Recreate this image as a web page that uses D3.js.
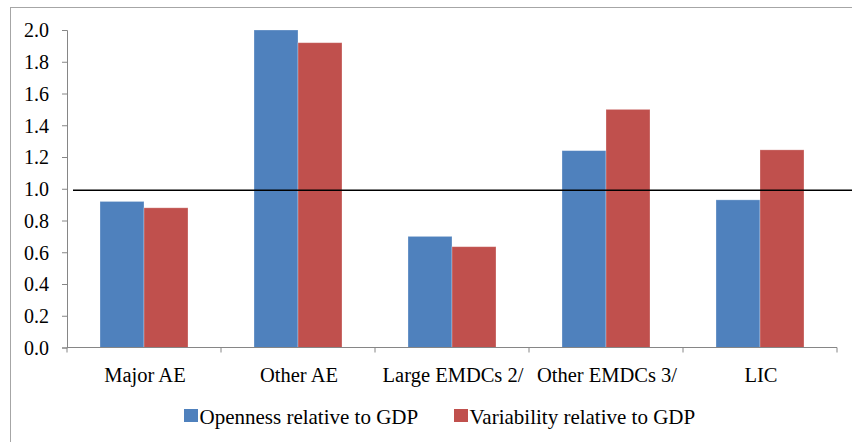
<!DOCTYPE html>
<html>
<head>
<meta charset="utf-8">
<script src="https://cdn.jsdelivr.net/npm/d3@7"></script>
<style>
  html, body { margin: 0; padding: 0; background: #fff; }
  svg { display: block; }
</style>
</head>
<body>
<svg id="chart" width="852" height="442"></svg>
<script>
// Category groups and the two series plotted for each
const categories = ["Major AE", "Other AE", "Large EMDCs 2/", "Other EMDCs 3/", "LIC"];
const openness = [0.92, 2.0, 0.70, 1.24, 0.93];
const variability = [0.88, 1.92, 0.635, 1.50, 1.245];
const seriesNames = ["Openness relative to GDP", "Variability relative to GDP"];
const seriesColors = ["#4F81BD", "#C0504D"];
const yTicks = [0, 0.2, 0.4, 0.6, 0.8, 1.0, 1.2, 1.4, 1.6, 1.8, 2.0];
const referenceValue = 0.99;

const FONT = "Liberation Serif";
const svg = d3.select("#chart");

// Outer chart frame
svg.append("rect")
  .attr("x", 10.5).attr("y", 7.5)
  .attr("width", 860).attr("height", 460)
  .attr("fill", "none").attr("stroke", "#a6a6a6").attr("stroke-width", 1);

const plot = { left: 67, right: 837, top: 30, bottom: 347.5 };

const x = d3.scaleBand().domain(categories).range([plot.left, plot.right]).padding(0);
const y = d3.scaleLinear().domain([0, 2]).range([plot.bottom, plot.top]);

const groupWidth = 88;
const xs = d3.scaleBand().domain([0, 1]).range([0, groupWidth]).padding(0);

// Bars
const rows = categories.map((c, i) => ({ c, v: [openness[i], variability[i]] }));
const g = svg.append("g");
rows.forEach(r => {
  r.v.forEach((v, s) => {
    g.append("rect")
      .attr("x", x(r.c) + (x.bandwidth() - groupWidth) / 2 + xs(s))
      .attr("y", y(v))
      .attr("width", xs.bandwidth())
      .attr("height", y(0) - y(v))
      .attr("fill", seriesColors[s])
      .attr("stroke", "rgba(255,255,255,0.35)")
      .attr("stroke-width", 0.8);
  });
});

// Y axis
const yAxis = d3.axisLeft(y).tickValues(yTicks).tickFormat(d3.format(".1f")).tickSize(5).tickPadding(13);
const yG = svg.append("g").attr("transform", `translate(${plot.left},0)`).call(yAxis);
yG.select(".domain").attr("stroke", "#868686");
yG.selectAll(".tick line").attr("stroke", "#868686");
yG.selectAll(".tick text")
  .style("font-family", FONT).style("font-size", "20px").style("fill", "#000")
  .attr("dy", "0.34em");

// X axis with ticks at category boundaries
const xAxisG = svg.append("g").attr("transform", `translate(0,${plot.bottom})`);
xAxisG.append("line")
  .attr("x1", plot.left).attr("x2", plot.right)
  .attr("stroke", "#868686");
const bounds = [plot.left].concat(categories.map(c => x(c) + x.bandwidth()));
xAxisG.selectAll("line.tk").data(bounds).enter().append("line")
  .attr("class", "tk")
  .attr("x1", d => d).attr("x2", d => d)
  .attr("y1", 0).attr("y2", 5)
  .attr("stroke", "#868686");
xAxisG.selectAll("text").data(categories).enter().append("text")
  .attr("x", d => x(d) + x.bandwidth() / 2 + 1)
  .attr("y", 34.5)
  .attr("text-anchor", "middle")
  .style("font-family", FONT).style("font-size", "20.5px").style("fill", "#000")
  .text(d => d);

// Reference line
svg.append("line")
  .attr("x1", 73).attr("x2", 852)
  .attr("y1", y(referenceValue)).attr("y2", y(referenceValue))
  .attr("stroke", "#000").attr("stroke-width", 1.5);

// Legend
const legendX = [184, 454];
const legend = svg.append("g");
seriesNames.forEach((n, i) => {
  legend.append("rect")
    .attr("x", legendX[i]).attr("y", 409)
    .attr("width", 14).attr("height", 13)
    .attr("fill", seriesColors[i]);
  legend.append("text")
    .attr("x", legendX[i] + 15.5).attr("y", 424)
    .style("font-family", FONT).style("font-size", "21px").style("fill", "#000")
    .text(n);
});
</script>
</body>
</html>
